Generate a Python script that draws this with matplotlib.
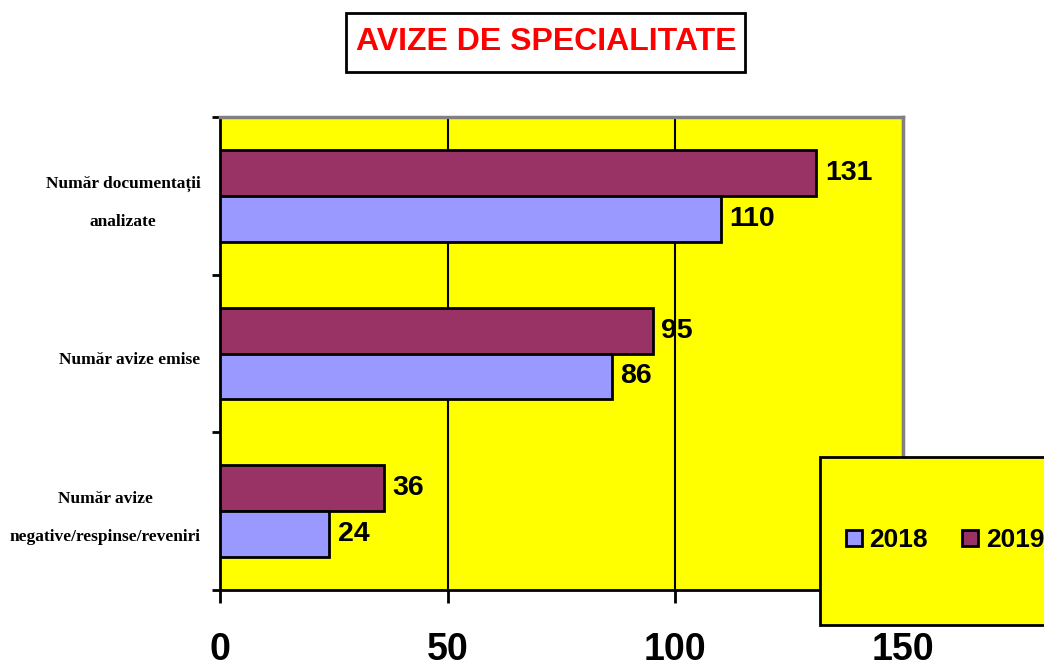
import matplotlib.pyplot as plt
from matplotlib.patches import Rectangle
from matplotlib.lines import Line2D

categories = ["Număr documentații\n\nanalizate", "Număr avize emise", "Număr avize\n\nnegative/respinse/reveniri"]
years = ["2018", "2019"]
values_2018 = [110, 86, 24]
values_2019 = [131, 95, 36]
xticks = [0, 50, 100, 150]

c2018 = "#9999FF"
c2019 = "#993366"

W, H = 1044, 667
fig = plt.figure(figsize=(W / 100, H / 100), dpi=100)
ax = fig.add_axes([220 / W, 1 - 590 / H, 683 / W, 473 / H])
ax.set_facecolor("#FFFF00")

centers = [2.5, 1.5, 0.5]
bh = 0.29
ax.barh([c + bh / 2 for c in centers], values_2019, height=bh, color=c2019,
        edgecolor="black", linewidth=2, zorder=3)
ax.barh([c - bh / 2 for c in centers], values_2018, height=bh, color=c2018,
        edgecolor="black", linewidth=2, zorder=3)

for c, v in zip(centers, values_2019):
    ax.annotate(str(v), (v, c + bh / 2), xytext=(6, 0), textcoords="offset points",
                ha="left", va="center", fontsize=20.5, fontweight="bold",
                family="Liberation Sans", zorder=5)
for c, v in zip(centers, values_2018):
    ax.annotate(str(v), (v, c - bh / 2), xytext=(6, 0), textcoords="offset points",
                ha="left", va="center", fontsize=20.5, fontweight="bold",
                family="Liberation Sans", zorder=5)

for c, lab in zip(centers, categories):
    ax.annotate(lab, (0, c), xycoords=("axes fraction", "data"), xytext=(-14, -5),
                textcoords="offset points", ha="right", va="center",
                multialignment="center", fontsize=12.5, fontweight="bold",
                family="Liberation Serif", linespacing=1.25)

ax.set_xlim(0, 150)
ax.set_ylim(0, 3)
ax.set_xticks(xticks)
ax.set_xticklabels([str(t) for t in xticks], fontsize=27, fontweight="bold",
                   family="Liberation Sans")
ax.set_yticks([0, 1, 2, 3])
ax.set_yticklabels([])
ax.tick_params(axis="x", direction="out", length=9, width=2, pad=21)
ax.tick_params(axis="y", direction="out", length=6, width=2)
ax.grid(axis="x", color="black", linewidth=1.5, zorder=1)
ax.set_axisbelow(True)

for s in ["left", "bottom"]:
    ax.spines[s].set_linewidth(2)
    ax.spines[s].set_color("black")
for s in ["top", "right"]:
    ax.spines[s].set_linewidth(2.5)
    ax.spines[s].set_color("#808080")

# title box
fig.patches.append(Rectangle((346 / W, 1 - 72 / H), 399 / W, 59 / H,
                             transform=fig.transFigure, facecolor="white",
                             edgecolor="black", linewidth=2, zorder=10))
fig.text(546 / W, 1 - 42 / H, "AVIZE DE SPECIALITATE", ha="center", va="center",
         color="#FF0000", fontsize=23, fontweight="bold", family="Liberation Sans",
         zorder=11)

# legend box
fig.patches.append(Rectangle((820 / W, 1 - 625 / H), 240 / W, 168 / H,
                             transform=fig.transFigure, facecolor="#FFFF00",
                             edgecolor="black", linewidth=2, zorder=10))
handles = [Line2D([], [], marker="s", linestyle="none", markersize=11,
                  markerfacecolor=c2018, markeredgecolor="black", markeredgewidth=2),
           Line2D([], [], marker="s", linestyle="none", markersize=11,
                  markerfacecolor=c2019, markeredgecolor="black", markeredgewidth=2)]
leg = fig.legend(handles, years, loc="center left",
                 bbox_to_anchor=(822 / W, 1 - 540 / H), ncol=2, frameon=False,
                 handlelength=0.6, handletextpad=0.3, columnspacing=1.3,
                 prop={"family": "Liberation Sans", "weight": "bold", "size": 19})
leg.set_zorder(11)

fig.savefig("out.png", dpi=100)
